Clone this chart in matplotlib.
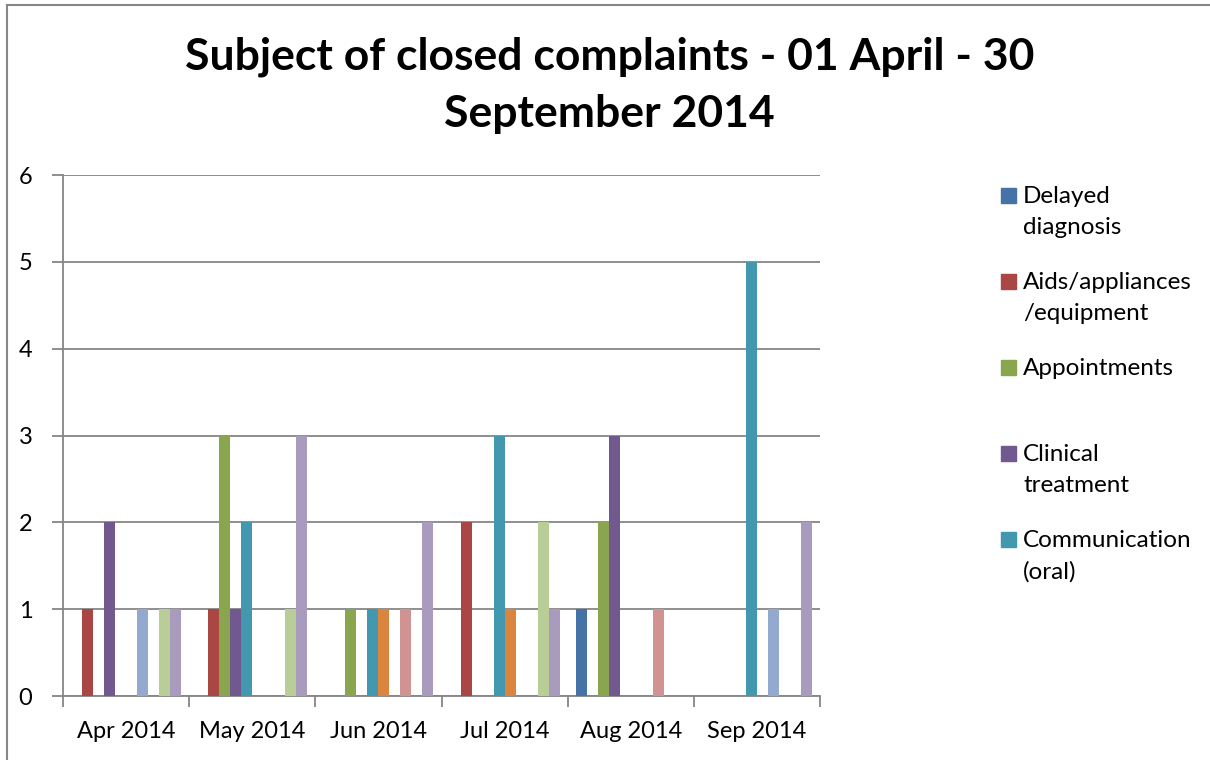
import matplotlib
matplotlib.use('Agg')
import matplotlib.pyplot as plt
import numpy as np
from matplotlib.patches import Rectangle

plt.rcParams['font.family'] = ['Lato', 'DejaVu Sans']

months = ['Apr 2014', 'May 2014', 'Jun 2014', 'Jul 2014', 'Aug 2014', 'Sep 2014']

# one list per complaint subject, values per month
delayed_diagnosis = [0, 0, 0, 0, 1, 0]
aids_appliances = [1, 1, 0, 2, 0, 0]
appointments = [0, 3, 1, 0, 2, 0]
clinical_treatment = [2, 1, 0, 0, 3, 0]
communication_oral = [0, 2, 1, 3, 0, 5]
series_6 = [0, 0, 1, 1, 0, 0]
series_7 = [1, 0, 0, 0, 0, 1]
series_8 = [0, 0, 1, 0, 1, 0]
series_9 = [1, 1, 0, 2, 0, 0]
series_10 = [1, 3, 2, 1, 0, 2]

series = [delayed_diagnosis, aids_appliances, appointments, clinical_treatment,
          communication_oral, series_6, series_7, series_8, series_9, series_10]
# only the first five fit in the legend of the original
legend_labels = ['Delayed\ndiagnosis', 'Aids/appliances\n/equipment', 'Appointments',
                 'Clinical\ntreatment', 'Communication\n(oral)']

colors = ['#4572A7', '#AA4643', '#89A54E', '#71588F', '#4198AF',
          '#DB843D', '#93A9CF', '#D19392', '#B9CD96', '#A99BBD']

fig = plt.figure(figsize=(12.1, 7.6), dpi=100)
ax = fig.add_axes([0.0521, 0.0842, 0.6256, 0.6855])

x = np.arange(len(months))
width = 0.0872
n = len(series)
for i, vals in enumerate(series):
    ax.bar(x + (i - (n - 1) / 2) * width, vals, width=width, color=colors[i], zorder=3)

ax.set_xlim(-0.5, len(months) - 0.5)
ax.set_ylim(0, 6)
ax.set_yticks(range(0, 7))
ax.set_xticks(x)
ax.set_xticklabels(months)
ax.set_xticks(np.arange(-0.5, len(months), 1), minor=True)
ax.tick_params(axis='x', which='major', length=0, pad=18, labelsize=17)
ax.tick_params(axis='x', which='minor', length=8, width=1.3, color='#868686')
ax.tick_params(axis='y', length=8, width=1.3, color='#868686', pad=14, labelsize=17)
ax.grid(axis='y', color='#868686', linewidth=1.3, zorder=0)
for s in ['top', 'right']:
    ax.spines[s].set_visible(False)
for s in ['left', 'bottom']:
    ax.spines[s].set_color('#868686')
    ax.spines[s].set_linewidth(1.3)

fig.text(0.504, 0.888, 'Subject of closed complaints - 01 April - 30\nSeptember 2014',
         ha='center', va='center', fontsize=32, fontweight='bold', linespacing=1.5)

# legend drawn by hand to keep the spacing of the original
for i, lab in enumerate(legend_labels):
    y = 194 + 86 * i
    fig.patches.append(Rectangle((1001 / 1210, 1 - (y + 9) / 760), 15 / 1210, 15 / 760,
                                 transform=fig.transFigure, color=colors[i]))
    fig.text(1023 / 1210, 1 - (y - 8) / 760, lab, ha='left', va='top', fontsize=17.5,
             linespacing=1.6)

# chart border (only left and top visible in the crop)
fig.add_artist(plt.Line2D([7 / 1210, 7 / 1210], [0, 1 - 5 / 760], transform=fig.transFigure,
                          color='#868686', linewidth=1.5))
fig.add_artist(plt.Line2D([7 / 1210, 1], [1 - 5 / 760, 1 - 5 / 760], transform=fig.transFigure,
                          color='#868686', linewidth=1.5))

fig.savefig('out.png', dpi=100)
